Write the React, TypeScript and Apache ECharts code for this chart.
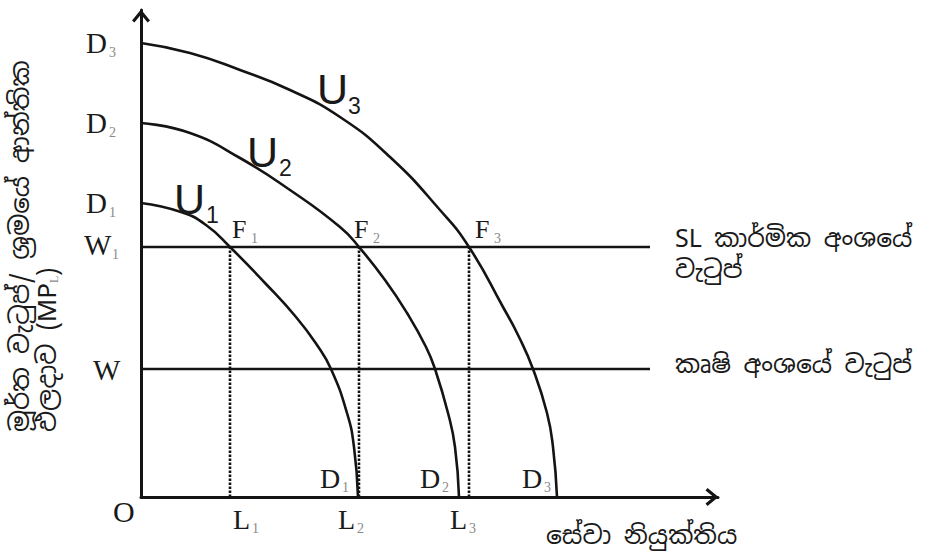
import React, { useEffect, useRef } from 'react';
import * as echarts from 'echarts';

// Curves U1, U2, U3 (x = employment offset, y = wage/MP offset)
const u1X = [0, 40, 65, 89, 124, 155, 176, 190, 206, 213, 217];
const u1Y = [294, 285, 272, 250, 214, 180, 152, 128, 84, 50, 0];
const u2X = [0, 49, 99, 149, 199, 218, 244, 266, 285, 294, 307, 314, 318];
const u2Y = [374, 364, 339, 307, 270, 250, 217, 184, 150, 128, 84, 50, 0];
const u3X = [0, 49, 99, 149, 199, 249, 299, 328, 362, 378, 392, 406, 412, 416];
const u3Y = [454, 444, 427, 407, 380, 340, 287, 250, 190, 160, 128, 84, 50, 0];
// Wage levels W1 and W
const wageLevels = [250, 128];
const wageLineEnd = [509, 509];
// Employment levels L1, L2, L3 (dotted drops from F1, F2, F3)
const lLevels = [89, 218, 328];
const xMax = 577;
const yMax = 487;

const SERIF = '"Liberation Serif", "Times New Roman", serif';
const SANS = '"Liberation Sans", Arial, sans-serif';
const SINH = '"Noto Sans Sinhala", "Iskoola Pota", "Noto Sans", "Liberation Serif", sans-serif';

function txt(text: string, x: number, y: number, size: number, family: string, fill = '#1a1a1a', extra: any = {}) {
  return {
    type: 'text',
    x,
    y,
    z: 10,
    style: {
      text,
      fontSize: size,
      fontFamily: family,
      fill,
      align: 'left',
      verticalAlign: 'middle',
      ...extra,
    },
  };
}

function lab(main: string, sub: string, x: number, y: number, size = 29, subDx = 23) {
  return [
    txt(main, x, y, size, SERIF),
    txt(sub, x + subDx, y + 9, 14, SERIF, '#8a8a8a'),
  ];
}

export default function App() {
  const ref = useRef<HTMLDivElement>(null);
  useEffect(() => {
    if (!ref.current) return;
    const chart = echarts.init(ref.current, undefined, { renderer: 'svg' });
    const zip = (xs: number[], ys: number[]) => xs.map((v, i) => [v, ys[i]]);
    const curveStyle = { color: '#141414', width: 2.6 };
    const curve = (name: string, xs: number[], ys: number[]) => ({
      name,
      type: 'line',
      data: zip(xs, ys),
      smooth: 0.5,
      showSymbol: false,
      symbol: 'none',
      lineStyle: curveStyle,
      silent: true,
    });
    const arrow = 'path://M9,0 L18,11 L15.6,13 L9,5 L2.4,13 L0,11 Z';
    const axisCommon = {
      type: 'value',
      axisLabel: { show: false },
      axisTick: { show: false },
      splitLine: { show: false },
      axisLine: {
        show: true,
        onZero: false,
        symbol: ['none', arrow],
        symbolSize: [18, 13],
        symbolOffset: [0, -6],
        lineStyle: { color: '#141414', width: 3 },
      },
    };
    const series: any[] = [
      curve('U1', u1X, u1Y),
      curve('U2', u2X, u2Y),
      curve('U3', u3X, u3Y),
      ...wageLevels.map((w, i) => ({
        name: i === 0 ? 'W1' : 'W',
        type: 'line',
        data: [[0, w], [wageLineEnd[i], w]],
        showSymbol: false,
        symbol: 'none',
        lineStyle: { color: '#141414', width: 2.6 },
        silent: true,
      })),
      ...lLevels.map((l, i) => ({
        name: 'L' + (i + 1),
        type: 'line',
        data: [[l, 0], [l, wageLevels[0]]],
        showSymbol: false,
        symbol: 'none',
        lineStyle: { color: '#111', width: 2.6, type: [2.4, 1.6] },
        silent: true,
      })),
    ];

    const graphics: any[] = [
      ...lab('D', '3', 86, 43),
      ...lab('D', '2', 86, 123),
      ...lab('D', '1', 86, 203),
      ...lab('W', '1', 84, 245, 29, 28),
      txt('W', 93, 370, 29, SERIF),
      txt('O', 113, 511, 30, SERIF),
      ...lab('L', '1', 233, 519, 28, 19),
      ...lab('L', '2', 338, 519, 28, 19),
      ...lab('L', '3', 450, 519, 28, 19),
      ...lab('D', '1', 320, 478, 28, 22),
      ...lab('D', '2', 420, 478, 28, 22),
      ...lab('D', '3', 522, 478, 28, 22),
      ...lab('F', '1', 232, 229, 26, 19),
      ...lab('F', '2', 354, 229, 26, 19),
      ...lab('F', '3', 475, 229, 26, 19),
      txt('U', 174, 199, 43, SANS),
      txt('1', 206, 215, 23, SANS),
      txt('U', 247, 152, 43, SANS),
      txt('2', 279, 168, 23, SANS),
      txt('U', 317, 89, 43, SANS),
      txt('3', 348, 106, 23, SANS),
      txt('SL කාර්මික අංශයේ\nවැටුප්', 675, 222, 25, SINH, '#1a1a1a', { verticalAlign: 'top', lineHeight: 31 }),
      txt('කෘෂි අංශයේ වැටුප්', 675, 364, 25, SINH),
      txt('සේවා නියුක්තිය', 546, 535, 25, SINH),
      {
        type: 'text',
        x: 6,
        y: 432,
        rotation: Math.PI / 2,
        z: 10,
        style: {
          text: '{s|මූර්ත වැටුප්/ ශ්‍රමයේ ආන්තික}\n{s|ඵලදාව (MP}{b|L}{s|)}',
          align: 'left',
          verticalAlign: 'top',
          fill: '#1a1a1a',
          rich: {
            s: { fontSize: 26, fontFamily: SINH, lineHeight: 27, fill: '#1a1a1a' },
            b: { fontSize: 12, fontFamily: SERIF, lineHeight: 27, fill: '#8a8a8a', verticalAlign: 'bottom' },
          },
        },
      },
    ];

    chart.setOption({
      animation: false,
      backgroundColor: '#ffffff',
      grid: { left: 141, top: 10, right: 928 - 718, bottom: 555 - 497, containLabel: false },
      xAxis: { ...axisCommon, min: 0, max: xMax },
      yAxis: { ...axisCommon, min: 0, max: yMax },
      series,
      graphic: graphics,
    });
    return () => chart.dispose();
  }, []);
  return (
    <div
      ref={ref}
      style={{ position: 'absolute', left: 0, top: 0, width: 928, height: 555, background: '#fff' }}
    />
  );
}
